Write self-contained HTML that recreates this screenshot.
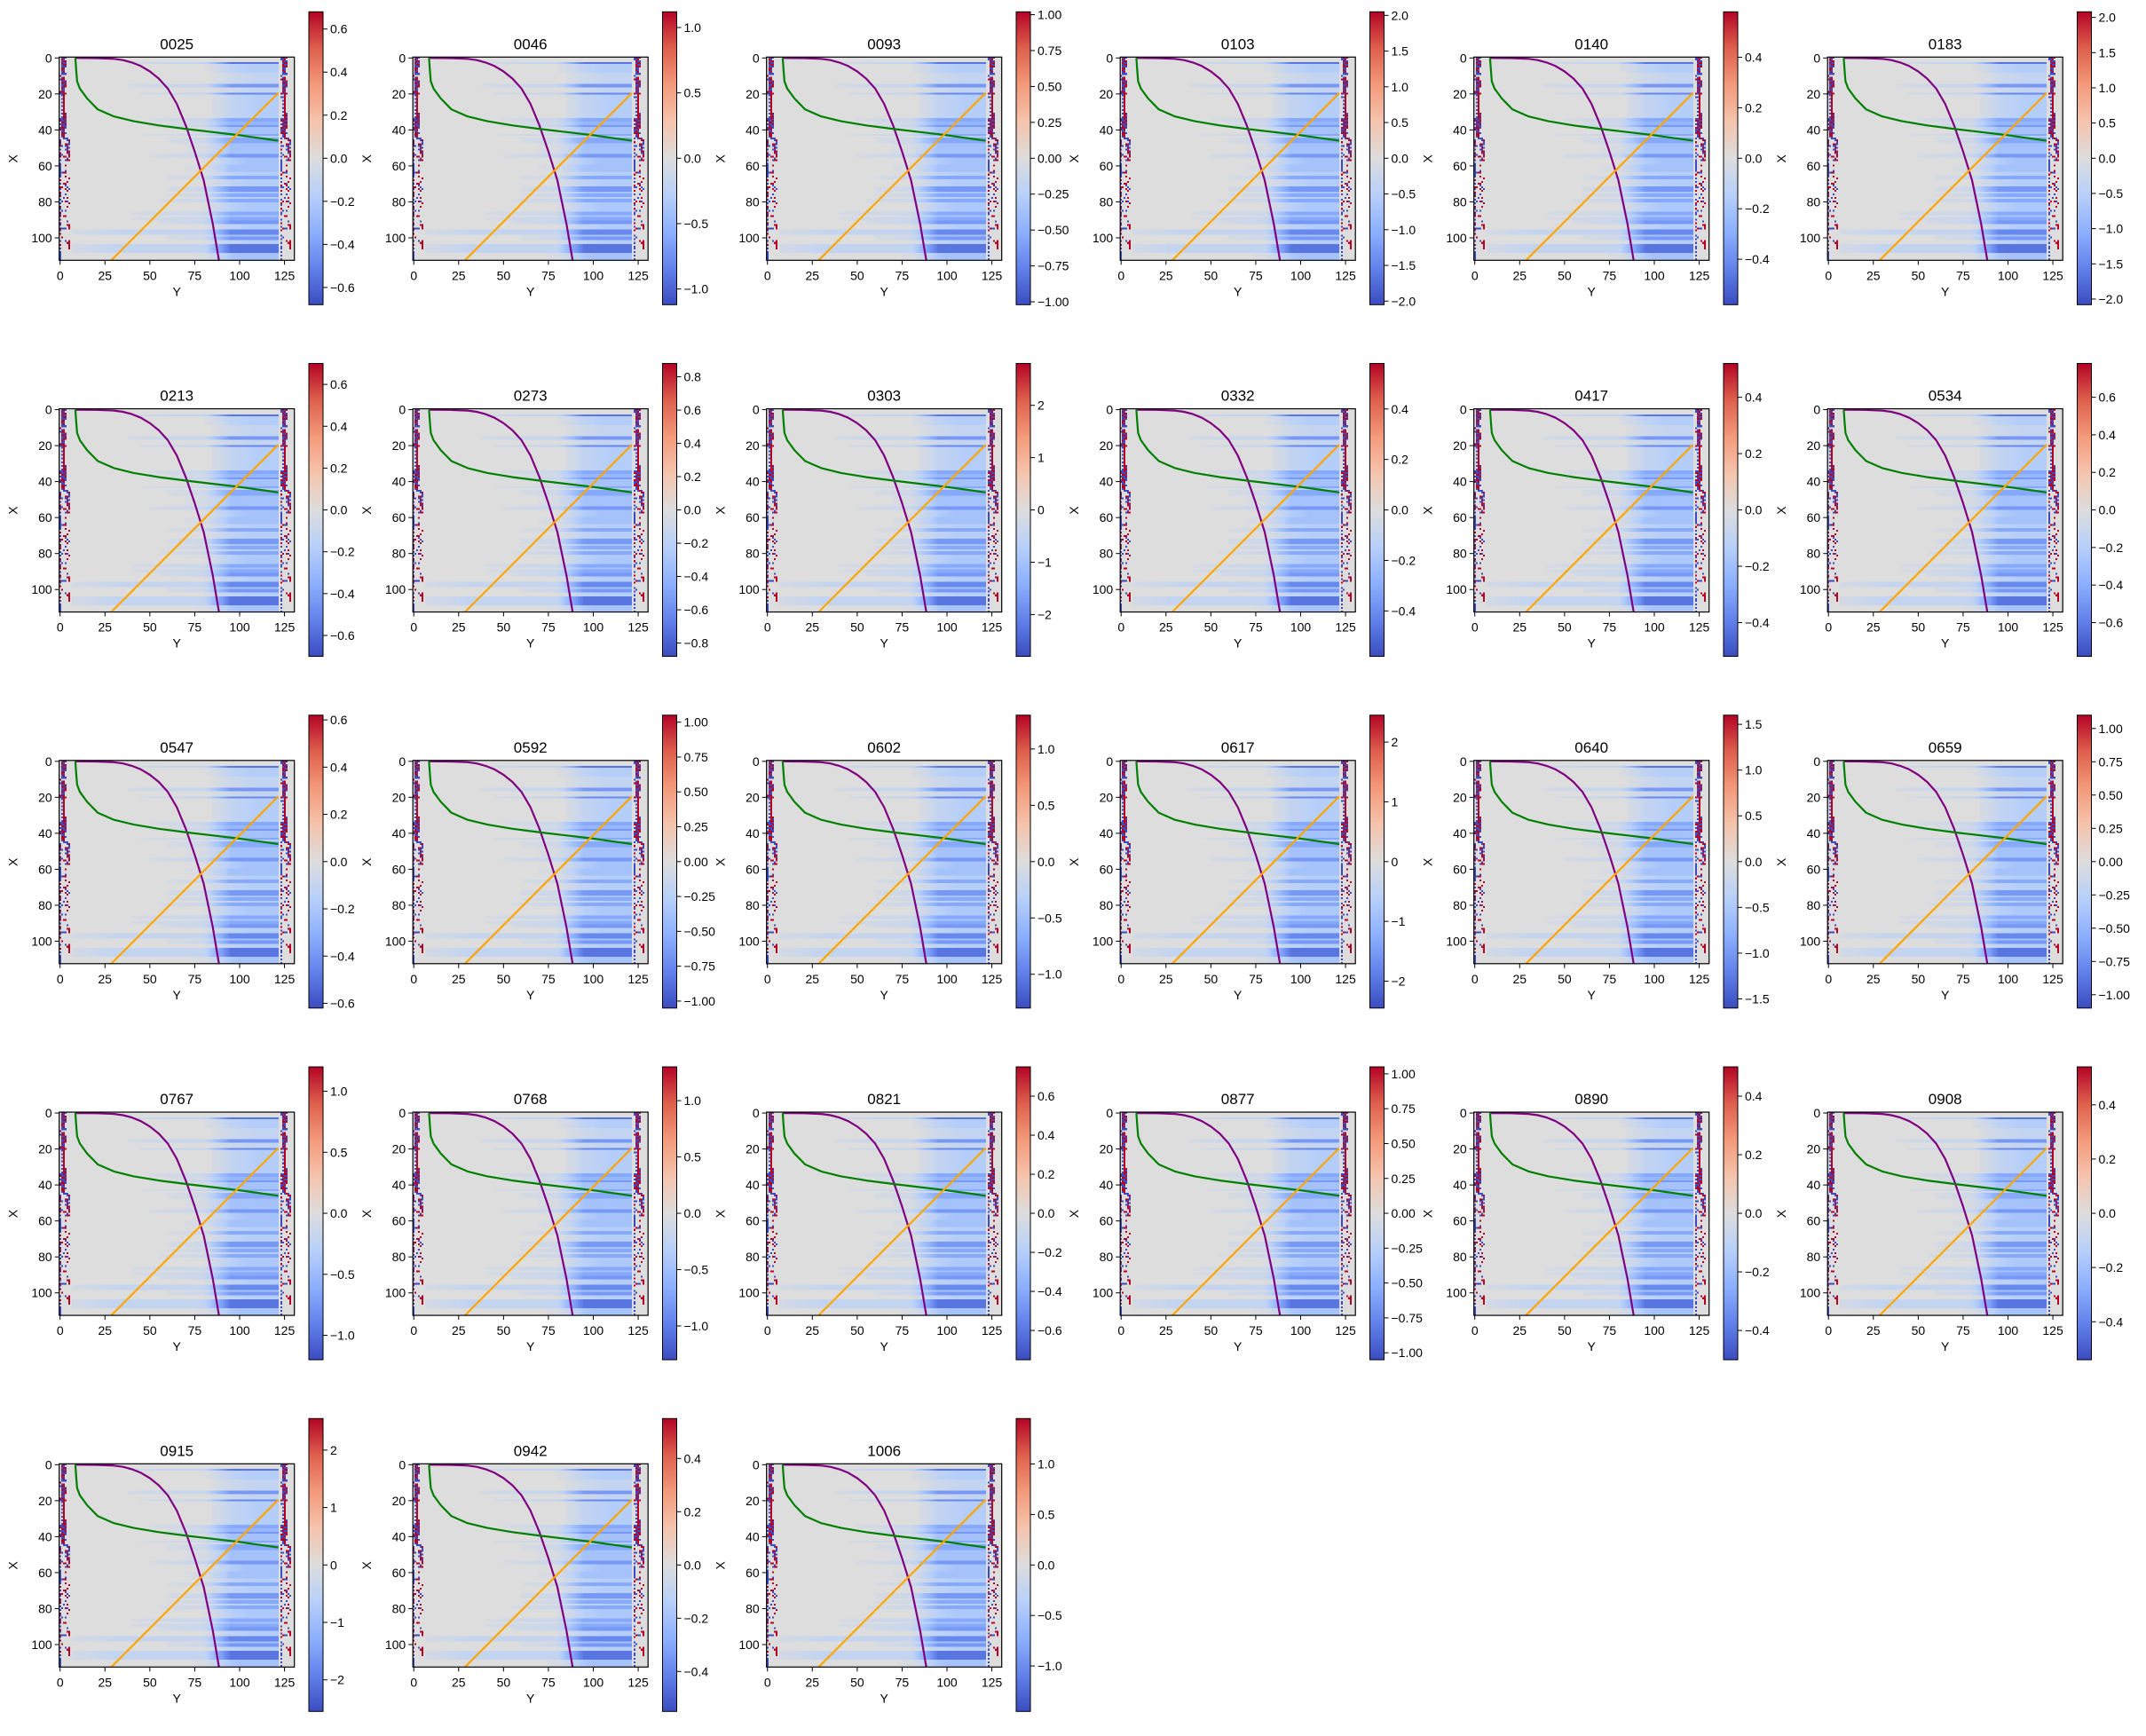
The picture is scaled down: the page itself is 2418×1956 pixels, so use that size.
<!DOCTYPE html>
<html><head><meta charset="utf-8">
<style>
html,body{margin:0;padding:0;background:#fff;}
#root{position:relative;width:2418px;height:1956px;overflow:hidden;background:#fff;font-family:"Liberation Sans","DejaVu Sans",sans-serif;}
.hm{position:absolute;image-rendering:pixelated;}
svg.ov{position:absolute;left:0;top:0;overflow:visible;}
</style></head>
<body>
<div id="root"></div>
<script>
// ---- data ----
const panelNames = ["0025","0046","0093","0103","0140","0183","0213","0273","0303","0332","0417","0534","0547","0592","0602","0617","0640","0659","0767","0768","0821","0877","0890","0908","0915","0942","1006"];
const panelVmax = [0.68,1.12,1.02,2.05,0.58,2.08,0.70,0.88,2.8,0.58,0.52,0.78,0.62,1.05,1.3,2.45,1.6,1.1,1.2,1.3,0.75,1.05,0.5,0.54,2.55,0.55,1.45];
const panelStep = [0.2,0.5,0.25,0.5,0.2,0.5,0.2,0.2,1,0.2,0.2,0.2,0.2,0.25,0.5,1,0.5,0.25,0.5,0.5,0.2,0.25,0.2,0.2,1,0.2,0.5];
const panelDec = [1,1,2,1,1,1,1,1,0,1,1,1,1,2,1,0,1,2,1,1,1,2,1,1,0,1,1];
const xTicks = [0,25,50,75,100,125];
const yTicks = [0,20,40,60,80,100];
const rowAmp = [0,0,0,.9,.3,.3,.3,.3,.3,.2,.2,.2,.2,.2,.2,.7,.7,.2,.2,.2,.8,
 .3,.3,.3,.3,.3,.3,.3,.3,.3,.3,.3,.3,.3,.6,.6,.5,.5,.7,.4,.4,.4,.4,.6,.3,.6,.6,.6,
 .4,.4,.4,.4,.4,.4,.7,.7,.4,.4,.4,.4,.4,.4,.4,.4,.3,.3,.6,.6,.3,.3,.3,.3,.7,.7,.7,
 .4,.6,.6,.3,.6,.6,.35,.35,.35,.35,.35,.6,.6,.4,.6,.6,.7,.7,.3,.3,.3,.8,.8,.8,.4,
 .7,.7,.3,.3,.9,.9,.9,.9,.9,.4,.4,.4,.4];
const rowOnset = [130,130,130,38,80,80,80,80,80,85,85,85,85,85,85,38,38,85,85,85,45,
 85,85,85,85,85,85,85,85,85,85,85,85,85,50,50,60,60,50,70,70,70,70,45,80,60,60,60,
 70,70,70,70,70,70,50,50,80,80,80,80,70,70,70,70,80,80,60,60,80,80,80,80,60,60,60,
 75,60,60,80,55,55,80,80,80,80,80,40,40,70,40,40,55,55,80,80,80,7,7,7,60,
 60,60,80,80,7,7,7,7,7,75,75,75,75];
const stripLeft = [
 "..........r.b......rb.............br.b.br.....brbr.b.rbr.b.bbbbbbbb.r.b.rb.rbr.b.b.rb.rbr.b.rb.rb.r...b.r.b.bbbbbbb",
 "brbrbbrrbb.brbrbbrbrbb.b.b.b.b.b.bbbrbrrbbrrb....b....b.........b.......r.......b....b.........b....r.........",
 "rbrbrbrbrb.rrbrbrbbrrrrrrrrrrrrrrrrbrbbrrbrrrb.........r........r.....r.......b.........r......b.........",
 "b.rbrb...b...rbrr...r..........rbrbrbrbb..b..b..rb.b...r.b..r..br.r...rb.r..b...r....b..r......b......b",
 ".............................................bb.rbrbrr..br...........r..b.r...r.b..r.......b.r.........r......",
 "..............................................rbb.b.rbrr.r.........r.....b.......r...........rrr......rrrrr....",
 "................................................................................................................."
];
const stripRight = [
 ".................................................................................................................",
 "bb........b.r.......r.b...........br.b.rbbr..b.r.b.r.b.b.bbbbbbb.r.b.b.rb.r.b..b.rb.r.bb..b.r.b.r..b.b.b.bb.b.b.bb",
 "rbrbrrbrbb.brbrbbrbrb.b.b.b.b.b.b.brbrbrbrrbb....b....b.........r.......b.......r....b.........r....b.........",
 "brbrbrbbrb.rrbrbrbrbrrrrrrrrrrrrrrrbrbrbrbrrrb.........r........b.....r.......b.........r......b.........",
 "r.brbr...b...rbrb...r..........brbrbrbrr..b..r..rb.b...r.b..r..rb.r...br.r..b...r....b..r......b......r",
 ".............................................br.rbrbrb..br...........r..b.r...r.b..r.......b.r.........r......",
 "..............................................rbb.b.rbrr.r.........r.....b.......r...........rrr......rrrrr...."
];
const purpleCols = [8.5,20,30,35,40,45,50,55,60,65,70,75,80,85,88.5];
const purpleRows = [0,0.1,0.5,1.2,2.5,4.5,7.5,11.5,17,25.5,37.5,52,68,92,112.5];
const greenCols = [8.5,9,9.5,11,15,21,30,41,55,70.5,85,98.6,110,121.5];
const greenRows = [0,7,13,17,22.5,28.6,32.5,35.2,37.5,39.5,41.2,42.8,44.4,46];
const orangeCols = [28.5,121.5];
const orangeRows = [112.5,19.5];

// ---- layout ----
const NC=131, NR=113;
const AX_W=265, AX_H=229;
const COL0=66.7, DCOL=398.5, ROW0=64.3, DROW=396.25;
const cw = [[-1,59,76,192],[-0.75,98,130,234],[-0.5,141,176,254],[-0.25,184,208,249],[0,221,221,221],[0.25,245,196,173],[0.5,244,154,123],[0.75,222,96,77],[1,180,4,38]];
function cmap(v){v=Math.max(-1,Math.min(1,v));for(let i=0;i<cw.length-1;i++){const a=cw[i],b=cw[i+1];if(v<=b[0]){const t=(v-a[0])/(b[0]-a[0]);return [0,1,2].map(k=>Math.round(a[k+1]+(b[k+1]-a[k+1])*t));}}return [180,4,38];}
function colShape(c){return c<80?0.22:(c>95?1:0.22+0.78*(c-80)/15);}
function sv(s){return s==='r'?1:(s==='b'?-1:0);}
function cellValue(r,c){
  if(c<=6) return sv(stripLeft[c][r]||'.');
  if(c>=122){const k=c-122;return k<stripRight.length?sv(stripRight[k][r]||'.'):0;}
  if(c<rowOnset[r]) return 0;
  const ramp=Math.min(1,0.4+0.6*(c-rowOnset[r])/25);
  return -rowAmp[r]*ramp*colShape(c)*0.9;
}
const base=document.createElement('canvas');base.width=NC;base.height=NR;
const bctx=base.getContext('2d');const img=bctx.createImageData(NC,NR);
for(let r=0;r<NR;r++)for(let c=0;c<NC;c++){const col=cmap(cellValue(r,c));const i=(r*NC+c)*4;img.data[i]=col[0];img.data[i+1]=col[1];img.data[i+2]=col[2];img.data[i+3]=255;}
bctx.putImageData(img,0,0);

const root=document.getElementById('root');
const NS="http://www.w3.org/2000/svg";
function el(tag,attrs,parent){const e=document.createElementNS(NS,tag);for(const k in attrs)e.setAttribute(k,attrs[k]);if(parent)parent.appendChild(e);return e;}
const svg=el('svg',{width:2418,height:1956,class:'ov'});


const defs=el('defs',{},svg);
const grad=el('linearGradient',{id:'cw',x1:0,y1:1,x2:0,y2:0},defs);
cw.forEach(s=>{el('stop',{offset:((s[0]+1)/2*100)+'%','stop-color':`rgb(${s[1]},${s[2]},${s[3]})`},grad);});

function fmt(v,d){const s=Math.abs(v).toFixed(d);return (v<-1e-9?'\u2212':'')+s;}

panelNames.forEach((name,p)=>{
  const ci=p%6, ri=Math.floor(p/6);
  const L=COL0+ci*DCOL, T=ROW0+ri*DROW;
  const xs=c=>L+(c+0.5)*AX_W/NC, ys=r=>T+(r+0.5)*AX_H/NR;
  const cv=document.createElement('canvas');cv.width=NC;cv.height=NR;cv.className='hm';
  cv.style.left=L+'px';cv.style.top=T+'px';cv.style.width=AX_W+'px';cv.style.height=AX_H+'px';
  cv.getContext('2d').drawImage(base,0,0);
  
  
  root.appendChild(cv);
  const g=el('g',{},svg);
  
  
  const mk=(cols,rows,color,nm)=>{const d=cols.map((c,i)=>(i?'L':'M')+xs(c).toFixed(1)+' '+ys(rows[i]).toFixed(1)).join(' ');const pth=el('path',{d:d,fill:'none',stroke:color,'stroke-width':2.2,'stroke-linejoin':'round'},g);
    
    };
  mk(purpleCols,purpleRows,'#800080','purple-curve');
  mk(greenCols,greenRows,'#008000','green-curve');
  mk(orangeCols,orangeRows,'#FFA500','orange-line');
  const frame=el('rect',{x:L,y:T,width:AX_W,height:AX_H,fill:'none',stroke:'#000','stroke-width':1.2},g);
  
  
  xTicks.forEach(v=>{const x=xs(v);el('line',{x1:x,x2:x,y1:T+AX_H,y2:T+AX_H+5,stroke:'#000','stroke-width':1},g);
    const t=el('text',{x:x,y:T+AX_H+22,'font-size':14,'text-anchor':'middle',fill:'#000'},g);t.textContent=v;
    
    });
  yTicks.forEach(v=>{const y=ys(v);el('line',{x1:L-5,x2:L,y1:y,y2:y,stroke:'#000','stroke-width':1},g);
    const t=el('text',{x:L-8,y:y+5,'font-size':14,'text-anchor':'end',fill:'#000'},g);t.textContent=v;
    
    });
  const tt=el('text',{x:L+AX_W/2,y:T-9,'font-size':17,'text-anchor':'middle',fill:'#000'},g);tt.textContent=name;
  
  
  const xl=el('text',{x:L+AX_W/2,y:T+AX_H+40,'font-size':14,'text-anchor':'middle',fill:'#000'},g);xl.textContent='Y';
  
  
  const yl=el('text',{x:0,y:0,'font-size':14,'text-anchor':'middle',fill:'#000',transform:`translate(${L-47},${T+AX_H/2}) rotate(-90)`},g);yl.textContent='X';
  
  
  const CL=L+281.3, CT=T-51, CH=330, CWd=16;
  const cb=el('rect',{x:CL,y:CT,width:CWd,height:CH,fill:'url(#cw)',stroke:'#000','stroke-width':1},g);
  
  
  const vm=panelVmax[p], st=panelStep[p];
  const n=Math.floor(vm/st+1e-6);
  for(let k=-n;k<=n;k++){const v=k*st;const y=CT+CH*(1-(v+vm)/(2*vm));
    el('line',{x1:CL+CWd,x2:CL+CWd+5,y1:y,y2:y,stroke:'#000','stroke-width':1},g);
    const t=el('text',{x:CL+CWd+8,y:y+5,'font-size':14,fill:'#000'},g);t.textContent=fmt(v,panelDec[p]);
    
    }
});
root.appendChild(svg);
</script>
</body></html>
